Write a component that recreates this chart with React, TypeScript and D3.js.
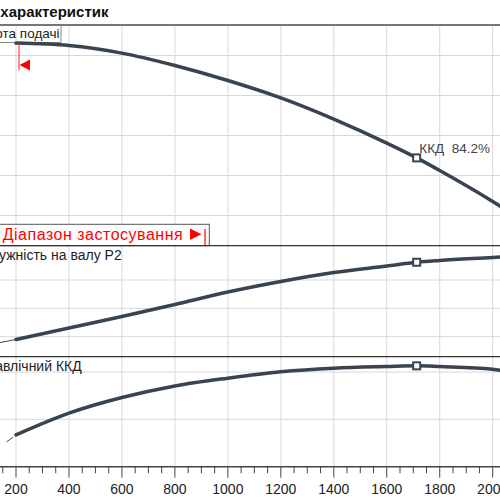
import React from "react";
import * as d3 from "d3";

// Flow rate (x) values
const Q = [200, 400, 600, 800, 1000, 1200, 1400, 1600, 1713, 1800, 2000, 2100];
// Head, m
const HEAD = [53.1, 52.5, 50.6, 47.5, 43.75, 39.4, 34.1, 28.1, 24.4, 21.25, 13.5, 9.25];
// Shaft power P2
const POWER = [4.5, 6.53, 8.56, 10.68, 12.88, 14.74, 16.32, 17.47, 18.13, 18.44, 18.97, 19.25];
const POWER_THIN_Q = [0, 100, 200];
const POWER_THIN = [2.7, 3.6, 4.5];
// Hydraulic efficiency, %
const EFF = [53.4, 62.6, 69.2, 74.1, 77.4, 80.1, 81.6, 82.3, 82.6, 82.3, 81.2, 78.8];
const EFF_THIN_Q = [110, 200];
const EFF_THIN = [46.0, 53.4];

const DUTY_Q = 1713;
const DUTY_LABEL = "ККД  84.2%";
const Q_TICKS = d3.range(0, 2201, 200);
const Q_MINOR = d3.range(0, 2201, 50);
const HEAD_TICKS = [10, 20, 30, 40, 50];
const POWER_TICKS = [5, 10, 15];
const EFF_TICKS = [60, 80];

const TITLE = "Графік характеристик";
const L_HEAD = "Висота подачі";
const L_POWER = "Потужність на валу P2";
const L_EFF = "Гідравлічний ККД";
const L_RANGE = "Діапазон застосування";

const FONT = "'Liberation Sans', Arial, sans-serif";
const CURVE = "#3a4451";
const GRID = "#d8d8d8";

export default function App() {
  const W = 500, H = 500;
  const x = d3.scaleLinear().domain([200, 2000]).range([16, 492.7]);
  const yH = d3.scaleLinear().domain([0, 50]).range([255.5, 55.5]);
  const yP = d3.scaleLinear().domain([0, 15]).range([365, 280]);
  const yE = d3.scaleLinear().domain([40, 80]).range([466.7, 372]);

  const P1 = [25, 245.7];
  const P2 = [245.7, 356.7];
  const P3 = [356.7, 466.7];

  const mk = (ys: d3.ScaleLinear<number, number>, qs: number[], vs: number[]) =>
    d3.line<number>().x((_, i) => x(qs[i])).y((v) => ys(v)).curve(d3.curveMonotoneX)(vs) || "";

  const marker = (ys: d3.ScaleLinear<number, number>, vs: number[]) => {
    const i = Q.indexOf(DUTY_Q);
    const cx = x(DUTY_Q), cy = ys(vs[i]);
    return <rect x={cx - 3.5} y={cy - 3.5} width={7} height={7} fill="#fff" stroke={CURVE} strokeWidth={2} />;
  };

  return (
    <svg width={W} height={H} style={{ position: "absolute", left: 0, top: 0, background: "#fff" }} fontFamily={FONT}>
      <defs>
        <clipPath id="c1"><rect x={0} y={P1[0]} width={W} height={P1[1] - P1[0]} /></clipPath>
        <clipPath id="c2"><rect x={0} y={P2[0]} width={W} height={P2[1] - P2[0]} /></clipPath>
        <clipPath id="c3"><rect x={0} y={P3[0]} width={W} height={P3[1] - P3[0]} /></clipPath>
      </defs>
      <rect x={0} y={0} width={W} height={H} fill="#fff" />
      {/* title */}
      <text x={108.5} y={17} textAnchor="end" fontWeight="bold" fontSize={15} fill="#111">{TITLE}</text>

      {/* horizontal gridlines */}
      {HEAD_TICKS.map((t) => <line key={"h" + t} x1={0} x2={W} y1={yH(t)} y2={yH(t)} stroke={GRID} strokeWidth={1} />)}
      {POWER_TICKS.map((t) => <line key={"p" + t} x1={0} x2={W} y1={yP(t)} y2={yP(t)} stroke={GRID} strokeWidth={1} />)}
      {EFF_TICKS.map((t) => <line key={"e" + t} x1={0} x2={W} y1={yE(t)} y2={yE(t)} stroke={GRID} strokeWidth={1} />)}
      {/* vertical gridlines */}
      {Q_TICKS.map((t) => <line key={"v" + t} x1={x(t)} x2={x(t)} y1={P1[0]} y2={P3[1]} stroke={GRID} strokeWidth={1} />)}

      {/* panel borders */}
      <line x1={0} x2={W} y1={P1[0]} y2={P1[0]} stroke="#777" strokeWidth={2} />

      {/* head label box */}
      <path d={`M-1,42.5 H61 V${P1[0]}`} fill="none" stroke="#888" strokeWidth={1} />
      <text x={59.5} y={37.5} textAnchor="end" fontSize={13.5} fill="#222">{L_HEAD}</text>

      {/* head curve */}
      <g clipPath="url(#c1)">
        <path d={mk(yH, Q, HEAD)} fill="none" stroke={CURVE} strokeWidth={3.5} strokeLinecap="round" />
        {marker(yH, HEAD)}
      </g>
      <text x={419.3} y={153.3} fontSize={13.5} fill="#444" style={{ whiteSpace: "pre" }} xmlSpace="preserve">{DUTY_LABEL}</text>

      {/* range start marker */}
      <line x1={19} x2={19} y1={43} y2={70.5} stroke="#ff2020" strokeWidth={1} />
      <path d="M19.5,65 L30,59.5 L30,70.5 Z" fill="#ff0000" />

      {/* range box */}
      <rect x={-1} y={224.3} width={210.3} height={P1[1] - 224.3} fill="#fff" stroke="#555" strokeWidth={1} />
      <text x={2.7} y={239.5} fontSize={16} fill="#ff0000" textLength={180} lengthAdjust="spacing">{L_RANGE}</text>
      <path d="M190,228.5 L201.5,234.3 L190,240 Z" fill="#ff0000" />
      <line x1={205} x2={205} y1={229} y2={245} stroke="#ff0000" strokeWidth={1.2} />

      <line x1={0} x2={W} y1={P2[0]} y2={P2[0]} stroke="#333" strokeWidth={1.3} />

      {/* power */}
      <text x={121.7} y={259.5} textAnchor="end" fontSize={14} fill="#222">{L_POWER}</text>
      <g clipPath="url(#c2)">
        <path d={mk(yP, POWER_THIN_Q, POWER_THIN)} fill="none" stroke={CURVE} strokeWidth={1} />
        <path d={mk(yP, Q, POWER)} fill="none" stroke={CURVE} strokeWidth={3.5} strokeLinecap="round" />
        {marker(yP, POWER)}
      </g>

      <line x1={0} x2={W} y1={P3[0]} y2={P3[0]} stroke="#333" strokeWidth={1.3} />

      {/* efficiency */}
      <text x={81.7} y={370.7} textAnchor="end" fontSize={14} fill="#222">{L_EFF}</text>
      <g clipPath="url(#c3)">
        <path d={mk(yE, EFF_THIN_Q, EFF_THIN)} fill="none" stroke={CURVE} strokeWidth={1} strokeDasharray="8,10" />
        <path d={mk(yE, Q, EFF)} fill="none" stroke={CURVE} strokeWidth={3.5} strokeLinecap="round" />
        {marker(yE, EFF)}
      </g>

      {/* x axis */}
      <line x1={0} x2={W} y1={P3[1]} y2={P3[1]} stroke="#444" strokeWidth={1.5} />
      {Q_MINOR.map((t) => (
        <line key={"t" + t} x1={x(t)} x2={x(t)} y1={P3[1]} y2={P3[1] + (t % 200 === 0 ? 11 : 6.5)} stroke="#444" strokeWidth={1} />
      ))}
      {Q_TICKS.map((t) => (
        <text key={"l" + t} x={x(t)} y={494} textAnchor="middle" fontSize={14} fill="#222">{t}</text>
      ))}
    </svg>
  );
}
